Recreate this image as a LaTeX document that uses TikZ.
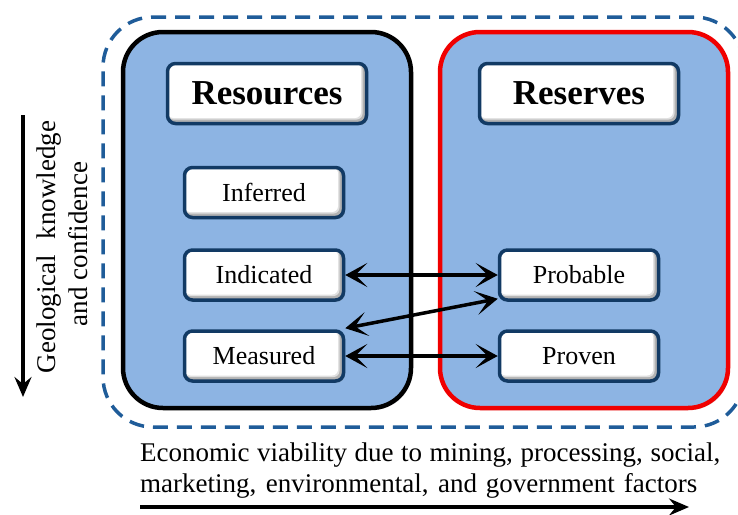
\documentclass[tikz,border=0pt]{standalone}
\usepackage{fontspec}
\setmainfont{Liberation Serif}
\usetikzlibrary{arrows.meta,shadows}
\definecolor{panelblue}{HTML}{8DB4E3}
\definecolor{tagborder}{HTML}{123A64}
\definecolor{frameblue}{HTML}{1F5C99}
\definecolor{reservered}{HTML}{F00000}

\tikzset{
  panel/.style={rounded corners=40pt, line width=4.5pt, fill=panelblue,
    minimum width=288pt, minimum height=376pt, inner sep=0pt,
    drop shadow={shadow xshift=1.5pt, shadow yshift=-2pt, opacity=.35}},
  % white label box with a soft bevel along its lower and right edges
  tag/.style={draw=tagborder, line width=3.5pt, fill=white, rounded corners=8pt,
    minimum width=159pt, minimum height=50pt, inner sep=0pt,
    font=\fontsize{26}{30}\selectfont,
    drop shadow={shadow xshift=1.5pt, shadow yshift=-1.5pt, opacity=.4},
    path picture={
      \fill[black!30] (path picture bounding box.south west)
        rectangle (path picture bounding box.north east);
      \fill[black!12, rounded corners=6pt]
        (path picture bounding box.north west)
        rectangle ([shift={(-4pt,4pt)}]path picture bounding box.south east);
      \fill[white, rounded corners=6pt]
        (path picture bounding box.north west)
        rectangle ([shift={(-5.5pt,5.5pt)}]path picture bounding box.south east);
    }},
  title/.style={tag, minimum width=199pt, minimum height=60pt,
    font=\fontsize{35}{40}\selectfont\bfseries},
  link/.style={line width=3.5pt,
    {Stealth[length=22pt, width=24pt, inset=12pt]}-{Stealth[length=22pt, width=24pt, inset=12pt]}},
  axis/.style={line width=3.5pt, -{Stealth[length=20pt, width=17pt, inset=7pt]}},
  caption/.style={inner sep=0pt, font=\fontsize{27}{31}\selectfont}
}

\begin{document}
\begin{tikzpicture}[x=1pt, y=-1pt]
\useasboundingbox (0,0) rectangle (738,514);

% dashed envelope around both classes
\node[draw=frameblue, line width=3.5pt, dash pattern=on 15pt off 9pt,
      rounded corners=50pt, minimum width=641pt, minimum height=410pt,
      inner sep=0pt] (envelope) at (423.5,222) {};

% the two class panels
\node[panel, draw=black] (resPanel) at (267,220) {};
\node[panel, draw=reservered] (rsvPanel) at (584,220) {};

% headings
\node[title] (resTitle) at (267,93.5) {Resources};
\node[title] (rsvTitle) at (579,93.5) {Reserves};

% categories
\node[tag] (inferred)  at (264,192.5) {Inferred};
\node[tag] (indicated) at (264,275)   {Indicated};
\node[tag] (measured)  at (264,356)   {Measured};
\node[tag] (probable)  at (579,275)   {Probable};
\node[tag] (proven)    at (579,356)   {Proven};

% conversions between resources and reserves
\draw[link] (indicated.east) -- (probable.west);
\draw[link] ([yshift=3pt]probable.south west) -- ([yshift=1pt]measured.north east);
\draw[link] (measured.east) -- (proven.west);

% geological confidence axis
\coordinate (geoTop) at (23,115);
\coordinate (geoBot) at (23,397);
\draw[axis] (geoTop) -- (geoBot);
\node[caption, rotate=90, anchor=base] (geoLine1) at (55,247)
  {\makebox[252pt][s]{Geological knowledge}};
\node[caption, rotate=90, anchor=base] (geoLine2) at (87,244) {and confidence};

% economic viability axis
\node[caption, anchor=base west] (ecoLine1) at (140,461)
  {\makebox[580pt][s]{Economic viability due to mining, processing, social,}};
\node[caption, anchor=base west] (ecoLine2) at (140,492)
  {\makebox[557pt][s]{marketing, environmental, and government factors}};
\coordinate (ecoStart) at (140,507);
\coordinate (ecoEnd) at (689,507);
\draw[axis] (ecoStart) -- (ecoEnd);
\end{tikzpicture}
\end{document}
